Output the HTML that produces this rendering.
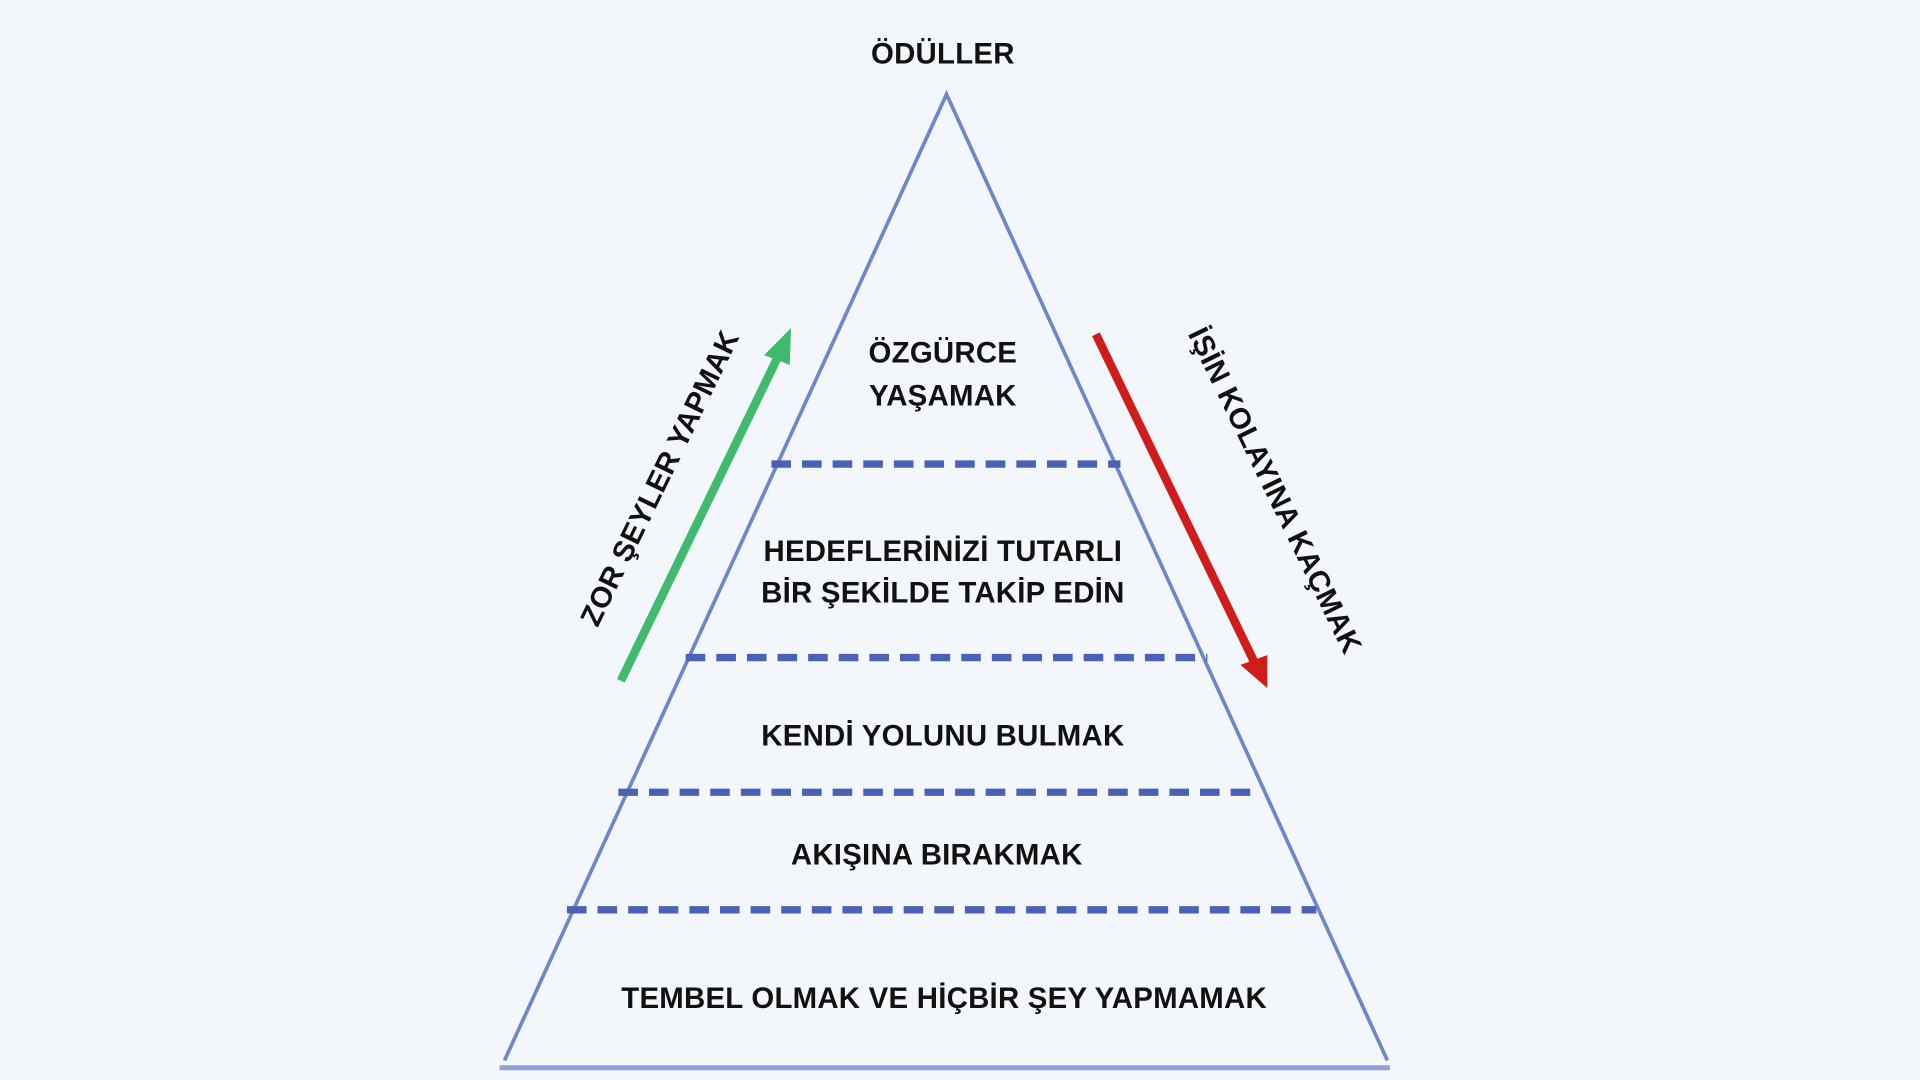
<!DOCTYPE html>
<html><head><meta charset="utf-8"><style>
html,body{margin:0;padding:0;background:#f3f7fb;}
svg{display:block;}
text{font-family:"Liberation Sans","DejaVu Sans",sans-serif;font-weight:bold;fill:#111;}
</style></head><body>
<svg width="1920" height="1080" viewBox="0 0 1568 882" xmlns="http://www.w3.org/2000/svg">
<rect width="1568" height="882" fill="#f3f7fb"/>
<g stroke="#6f86c9" stroke-width="3" fill="none">
<polyline points="412,866 773,77 1133,866"/>
</g>
<line x1="408" y1="872" x2="1135" y2="872" stroke="#8ea1d6" stroke-width="4"/>
<g stroke="#4a62b5" stroke-width="6" stroke-dasharray="16,9">
<line x1="630" y1="379" x2="915" y2="379"/>
<line x1="560" y1="537" x2="986" y2="537"/>
<line x1="505" y1="647" x2="1030" y2="647"/>
<line x1="463" y1="743" x2="1075" y2="743"/>
</g>
<line x1="507" y1="556" x2="636" y2="290" stroke="#3fba6f" stroke-width="7"/>
<polygon points="646,268 624,290 645,298" fill="#3fba6f"/>
<line x1="895" y1="273" x2="1024" y2="540" stroke="#d11c1c" stroke-width="7"/>
<polygon points="1035,562 1013,543 1035,535" fill="#d11c1c"/>
<g font-size="24" text-anchor="middle" letter-spacing="0.2">
<text x="770" y="52">ÖDÜLLER</text>
<text x="770" y="296">ÖZGÜRCE</text>
<text x="770" y="331">YAŞAMAK</text>
<text x="770" y="458">HEDEFLERİNİZİ TUTARLI</text>
<text x="770" y="492">BİR ŞEKİLDE TAKİP EDİN</text>
<text x="770" y="609">KENDİ YOLUNU BULMAK</text>
<text x="765" y="706">AKIŞINA BIRAKMAK</text>
<text x="771" y="823">TEMBEL OLMAK VE HİÇBİR ŞEY YAPMAMAK</text>
<text transform="translate(546,394) rotate(-64)" x="0" y="0">ZOR ŞEYLER YAPMAK</text>
<text transform="translate(1034,404) rotate(64)" x="0" y="0">İŞİN KOLAYINA KAÇMAK</text>
</g>
</svg>
</body></html>
